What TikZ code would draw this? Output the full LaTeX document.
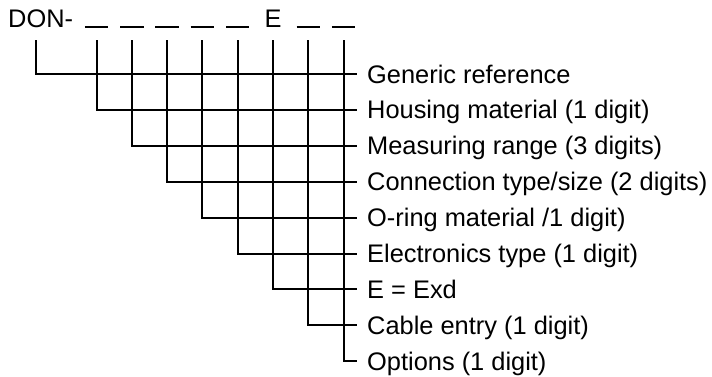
\documentclass[tikz,border=0pt]{standalone}
\usepackage{fontspec}
\setmainfont{Liberation Sans}
\usetikzlibrary{calc,positioning}

\begin{document}
\begin{tikzpicture}[x=1pt,y=1pt,
code/.style = {font=\fontsize{25.4}{30}\selectfont, inner sep=0pt, anchor=base},
slot/.style = {inner sep=0pt, minimum width=23pt, minimum height=0pt},
field/.style = {font=\fontsize{25.4}{30}\selectfont, anchor=west, inner xsep=10pt,
                inner ysep=0pt, text height=18pt, text depth=0pt},
line/.style = {draw, line width=2pt},
node distance=17.5pt]

\useasboundingbox (0,0) rectangle (712,-376);

% order code
\node [code, anchor=base west] (don) at (8,-27.3) {DON-};
\node [slot] (s1) at (96.5,-27) {};
\node [slot] (s2) at (131.8,-27) {};
\node [slot] (s3) at (167.1,-27) {};
\node [slot] (s4) at (202.4,-27) {};
\node [slot] (s5) at (237.7,-27) {};
\node [code] (e) at (273,-27.3) {E};
\node [slot] (s7) at (308.3,-27) {};
\node [slot] (s8) at (343.6,-27) {};

% fields
\node [field] (generic) at (357,-74) {Generic reference};
\node [field, below=of generic.south west, anchor=north west] (housing) {Housing material (1 digit)};
\node [field, below=of housing.south west, anchor=north west] (range) {Measuring range (3 digits)};
\node [field, below=of range.south west, anchor=north west] (conn) {Connection type/size (2 digits)};
\node [field, below=of conn.south west, anchor=north west] (oring) {O-ring material /1 digit)};
\node [field, below=of oring.south west, anchor=north west] (elec) {Electronics type (1 digit)};
\node [field, below=of elec.south west, anchor=north west] (exd) {E = Exd};
\node [field, below=of exd.south west, anchor=north west] (cable) {Cable entry (1 digit)};
\node [field, below=of cable.south west, anchor=north west] (opt) {Options (1 digit)};

\begin{scope}[every path/.style=line]
\path (s1.west) -- (s1.east);
\path (s2.west) -- (s2.east);
\path (s3.west) -- (s3.east);
\path (s4.west) -- (s4.east);
\path (s5.west) -- (s5.east);
\path (s7.west) -- (s7.east);
\path (s8.west) -- (s8.east);
\path ($ (don.base west) + (28,-13) $) |- (generic.west);
\path ($ (s1.south) + (0,-13) $) |- (housing.west);
\path ($ (s2.south) + (0,-13) $) |- (range.west);
\path ($ (s3.south) + (0,-13) $) |- (conn.west);
\path ($ (s4.south) + (0,-13) $) |- (oring.west);
\path ($ (s5.south) + (0,-13) $) |- (elec.west);
\path ($ (e.base) + (0,-13) $) |- (exd.west);
\path ($ (s7.south) + (0,-13) $) |- (cable.west);
\path ($ (s8.south) + (0,-13) $) |- (opt.west);
\end{scope}
\end{tikzpicture}
\end{document}
